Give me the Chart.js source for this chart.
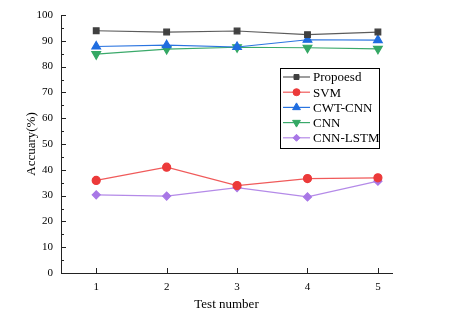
<!DOCTYPE html>
<html>
<head>
<meta charset="utf-8">
<script src="https://cdn.jsdelivr.net/npm/chart.js@4.4.0/dist/chart.umd.min.js"></script>
<style>
  html, body { margin: 0; padding: 0; background: #fff; }
  #wrap { width: 453px; height: 324px; }
</style>
</head>
<body>
<div id="wrap"><canvas id="mainChart" width="453" height="324"></canvas></div>
<script>
// test runs on the x axis
var testNumbers = [1, 2, 3, 4, 5];

// accuracy (%) for each method
var proposed = [93.9, 93.4, 93.8, 92.4, 93.4];
var svm      = [35.9, 41.0, 33.9, 36.6, 36.9];
var cwtCnn   = [87.8, 88.3, 87.6, 90.4, 90.3];
var cnn      = [84.8, 86.8, 87.5, 87.3, 86.9];
var cnnLstm  = [30.3, 29.8, 33.1, 29.5, 35.6];

var yTicks = [0, 10, 20, 30, 40, 50, 60, 70, 80, 90, 100];

var FONT = "'Liberation Serif', 'Times New Roman', serif";

function pts(arr) {
    return testNumbers.map(function (x, i) { return { x: x, y: arr[i] }; });
}

function series(label, arr, line, mark, style, rot) {
    return {
        label: label,
        data: pts(arr),
        borderColor: line,
        backgroundColor: mark,
        pointBackgroundColor: mark,
        pointBorderColor: mark,
        pointStyle: style,
        rotation: rot || 0,
        pointRadius: style === 'triangle' ? 5 : 4,
        borderWidth: 1.2,
        tension: 0
    };
}

// inward ticks on both axes (minor every 5 on y)
var innerTicks = {
    id: 'innerTicks',
    afterDraw: function (c) {
        var ctx = c.ctx, xs = c.scales.x, ys = c.scales.y;
        ctx.save();
        ctx.strokeStyle = '#222';
        ctx.lineWidth = 1;
        ctx.beginPath();
        for (var v = 0; v <= 100; v += 5) {
            var py = Math.round(ys.getPixelForValue(v)) + 0.5;
            var len = v % 10 === 0 ? 5 : 3;
            ctx.moveTo(xs.left, py);
            ctx.lineTo(xs.left + len, py);
        }
        testNumbers.forEach(function (n) {
            var px = Math.round(xs.getPixelForValue(n)) + 0.5;
            ctx.moveTo(px, ys.bottom);
            ctx.lineTo(px, ys.bottom - 5);
        });
        ctx.stroke();
        ctx.restore();
    }
};

// boxed legend with line-through-marker samples
var boxLegend = {
    id: 'boxLegend',
    afterDraw: function (c) {
        var ctx = c.ctx, area = c.chartArea;
        var x0 = area.left + 219, y0 = area.top + 53, w = 99, rowH = 15.2;
        var sets = c.data.datasets;
        ctx.save();
        ctx.fillStyle = '#fff';
        ctx.fillRect(x0, y0, w, rowH * sets.length + 4);
        ctx.strokeStyle = '#000';
        ctx.lineWidth = 1;
        ctx.strokeRect(x0 + 0.5, y0 + 0.5, w, rowH * sets.length + 4);
        ctx.font = '13px ' + FONT;
        ctx.textBaseline = 'middle';
        sets.forEach(function (ds, i) {
            var cy = y0 + 9 + i * rowH;
            ctx.strokeStyle = ds.borderColor;
            ctx.lineWidth = 1.2;
            ctx.beginPath();
            ctx.moveTo(x0 + 3, cy);
            ctx.lineTo(x0 + 30, cy);
            ctx.stroke();
            ctx.fillStyle = ds.pointBackgroundColor;
            ctx.strokeStyle = ds.pointBorderColor;
            ctx.lineWidth = 1;
            Chart.helpers.drawPoint(ctx, {
                pointStyle: ds.pointStyle,
                rotation: ds.rotation,
                radius: ds.pointRadius - 0.5,
                borderWidth: 1
            }, x0 + 16.5, cy);
            ctx.fillStyle = '#000';
            ctx.fillText(ds.label, x0 + 33, cy + 1);
        });
        ctx.restore();
    }
};

var ctx = document.getElementById('mainChart').getContext('2d');
var chart = new Chart(ctx, {
    type: 'line',
    data: {
        datasets: [
            series('Propoesd', proposed, '#5c5c5c', '#404040', 'rect'),
            series('SVM', svm, '#f05a5a', '#ec3a3a', 'circle'),
            series('CWT-CNN', cwtCnn, '#2a74e0', '#1f6de0', 'triangle'),
            series('CNN', cnn, '#3aa96a', '#34a864', 'triangle', 180),
            series('CNN-LSTM', cnnLstm, '#b48ae8', '#a877e6', 'rectRot')
        ]
    },
    options: {
        responsive: false,
        animation: false,
        layout: { padding: { left: 0, right: 61, top: 15, bottom: 0 } },
        plugins: { legend: { display: false }, tooltip: { enabled: false } },
        scales: {
            x: {
                type: 'linear',
                min: 0.5,
                max: 5.2,
                afterBuildTicks: function (s) {
                    s.ticks = testNumbers.map(function (v) { return { value: v }; });
                },
                afterFit: function (s) { s.height = 51; },
                grid: { display: false, drawTicks: false },
                border: { color: '#222', width: 1 },
                ticks: { color: '#000', font: { family: FONT, size: 11 }, padding: 8 },
                title: { display: true, text: 'Test number', color: '#000',
                         font: { family: FONT, size: 13 }, padding: { top: 2, bottom: 12 } }
            },
            y: {
                min: 0,
                max: 100,
                afterBuildTicks: function (s) {
                    s.ticks = yTicks.map(function (v) { return { value: v }; });
                },
                afterFit: function (s) { s.width = 61; },
                grid: { display: false, drawTicks: false },
                border: { color: '#222', width: 1 },
                ticks: { color: '#000', font: { family: FONT, size: 11 }, padding: 8 },
                title: { display: true, text: 'Accuary(%)', color: '#000',
                         font: { family: FONT, size: 13 }, padding: { top: 24, bottom: 0 } }
            }
        }
    },
    plugins: [innerTicks, boxLegend]
});
</script>
</body>
</html>
